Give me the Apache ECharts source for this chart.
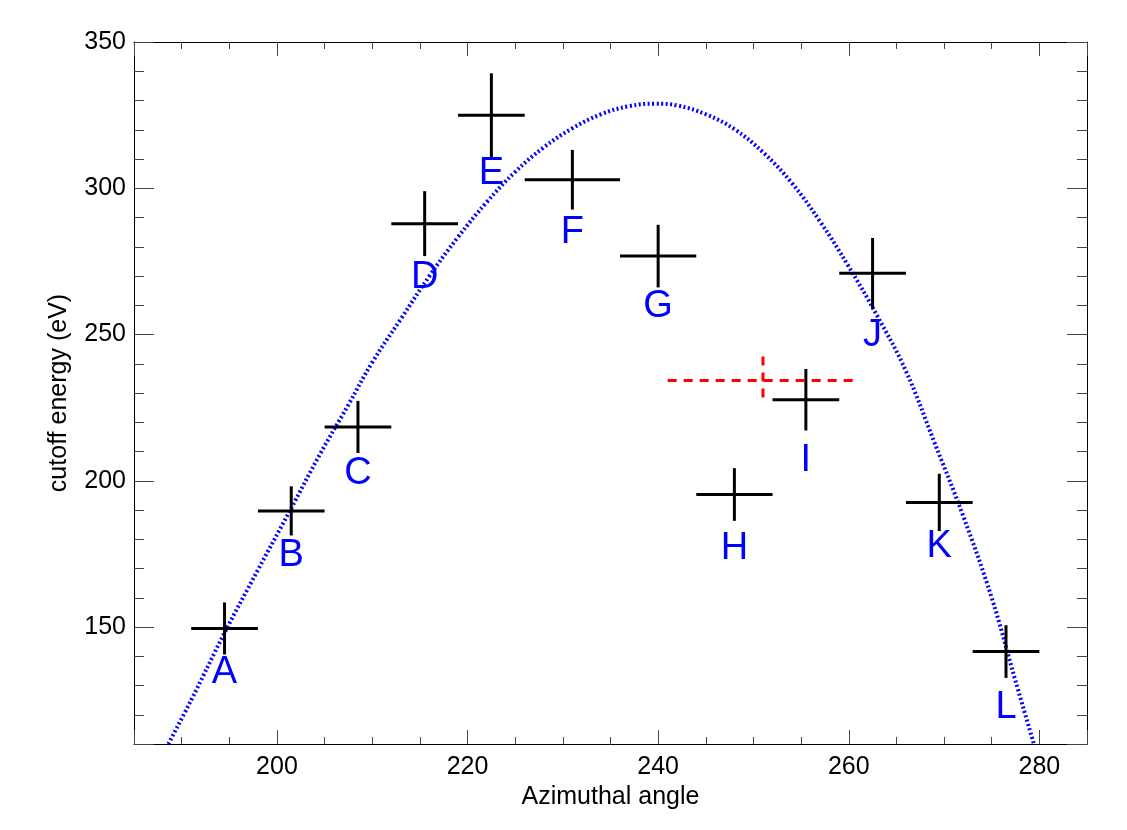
<!DOCTYPE html>
<html><head><meta charset="utf-8">
<script src="https://cdn.jsdelivr.net/npm/echarts@6/dist/echarts.min.js"></script>
<style>html,body{margin:0;padding:0;background:#fff}#c{width:1127px;height:830px}</style>
</head><body><div id="c"></div>
<script>
// ---- data ----
const labels = ['A','B','C','D','E','F','G','H','I','J','K','L'];
const angle = [194.5, 201.5, 208.5, 215.5, 222.5, 231.0, 240.0, 248.0, 255.5, 262.5, 269.5, 276.5];
const energy = [149.5, 189.7, 218.4, 287.9, 325.0, 302.9, 276.8, 195.3, 227.7, 270.9, 192.6, 141.6];
const angleErr = [3.5, 3.5, 3.5, 3.5, 3.5, 5.0, 4.0, 4.0, 3.5, 3.5, 3.5, 3.5];
const energyErr = [8.9, 8.4, 8.9, 11.1, 14.3, 10.2, 10.7, 9.0, 10.5, 12.1, 9.8, 9.0];
const labelEnergy = [134.3, 174.6, 202.6, 269.5, 304.9, 284.9, 259.5, 176.8, 207.0, 249.8, 177.4, 122.5];
const redAngle = [251.0];
const redEnergy = [234.3];
const redAngleErr = [10.0];
const redEnergyErr = [8.2];
const fitAngle = [188.6, 191, 194.5, 198, 201.4, 204.5, 207.5, 210, 213, 216, 219, 222, 225, 228, 231, 234, 237, 239.7, 242, 245, 248, 251, 254, 257, 260, 263, 266, 269, 272, 275, 277.5, 279.4];
const fitEnergy = [110, 125, 148, 169.5, 190, 209, 226, 240.5, 255.3, 270, 283.3, 295.2, 305.6, 314, 320.5, 325.3, 328.1, 328.9, 328.3, 325.3, 320.2, 312.3, 301.9, 288.6, 273.2, 256.3, 237.5, 213, 188, 160, 131.5, 110.3];
const xTickLabels = [200, 220, 240, 260, 280];
const yTickLabels = [150, 200, 250, 300, 350];

// ---- build ----
const FONT = '"Liberation Sans", Arial, Helvetica, sans-serif';
const crossData = angle.map((a, i) => [a, energy[i], angleErr[i], energyErr[i]]);
const redData = redAngle.map((a, i) => [a, redEnergy[i], redAngleErr[i], redEnergyErr[i]]);
const labelData = angle.map((a, i) => [a, labelEnergy[i], labels[i]]);
const fitData = fitAngle.map((a, i) => [a, fitEnergy[i]]);

function crossItem(color, width, dash) {
  return function (params, api) {
    const x = api.value(0), y = api.value(1), ex = api.value(2), ey = api.value(3);
    const l = api.coord([x - ex, y]), r = api.coord([x + ex, y]);
    const t = api.coord([x, y + ey]), b = api.coord([x, y - ey]);
    const style = { stroke: color, lineWidth: width, lineDash: dash, fill: null };
    return { type: 'group', children: [
      { type: 'line', shape: { x1: l[0], y1: l[1], x2: r[0], y2: r[1] }, style: style },
      { type: 'line', shape: { x1: t[0], y1: t[1], x2: b[0], y2: b[1] }, style: style }
    ] };
  };
}

const tickColor = '#444';
function xAxisDef(pos, showLabels) {
  return {
    type: 'value', position: pos, min: 185, max: 285, splitNumber: 5,
    name: showLabels ? 'Azimuthal angle' : '', nameLocation: 'middle', nameGap: 38,
    nameTextStyle: { fontSize: 25, color: '#000', fontFamily: FONT },
    axisLine: { show: true, onZero: false, lineStyle: { color: '#000', width: 1 } },
    axisTick: { show: true, inside: true, length: 14, lineStyle: { color: tickColor, width: 1 } },
    minorTick: { show: true, splitNumber: 4, length: 7, lineStyle: { color: tickColor, width: 1 } },
    axisLabel: { show: showLabels, fontSize: 25, color: '#000', fontFamily: FONT, margin: 11,
      formatter: v => (xTickLabels.indexOf(Math.round(v)) >= 0 && Math.abs(v - Math.round(v)) < 1e-6) ? String(Math.round(v)) : '' },
    splitLine: { show: false }, minorSplitLine: { show: false }
  };
}
function yAxisDef(pos, showLabels) {
  return {
    type: 'value', position: pos, min: 110, max: 350, splitNumber: 5,
    name: showLabels ? 'cutoff energy (eV)' : '', nameLocation: 'middle', nameGap: 62,
    nameTextStyle: { fontSize: 25, color: '#000', fontFamily: FONT },
    axisLine: { show: true, onZero: false, lineStyle: { color: '#000', width: 1 } },
    axisTick: { show: true, inside: true, length: 20, lineStyle: { color: tickColor, width: 1 } },
    minorTick: { show: true, splitNumber: 5, length: 10, lineStyle: { color: tickColor, width: 1 } },
    axisLabel: { show: showLabels, fontSize: 25, color: '#000', fontFamily: FONT, margin: 8,
      formatter: v => (yTickLabels.indexOf(Math.round(v)) >= 0 && Math.abs(v - Math.round(v)) < 1e-6) ? String(Math.round(v)) : '' },
    splitLine: { show: false }, minorSplitLine: { show: false }
  };
}

const chart = echarts.init(document.getElementById('c'), null, { renderer: 'canvas' });
chart.setOption({
  animation: false,
  backgroundColor: '#fff',
  textStyle: { fontFamily: FONT },
  grid: { left: 134, right: 40, top: 42, bottom: 86, containLabel: false },
  xAxis: [xAxisDef('bottom', true), xAxisDef('top', false)],
  yAxis: [yAxisDef('left', true), yAxisDef('right', false)],
  series: [
    {
      type: 'line', data: fitData, showSymbol: false, smooth: 0.4, silent: true,
      lineStyle: { color: '#0000ff', width: 4, type: [2, 2.5], cap: 'butt' }, z: 2
    },
    {
      type: 'custom', data: crossData, renderItem: crossItem('#000', 3, null), silent: true, z: 3
    },
    {
      type: 'custom', data: redData, renderItem: crossItem('#ff0000', 3, [9, 7]), silent: true, z: 3
    },
    {
      type: 'scatter', data: labelData, symbol: 'circle', symbolSize: 1, silent: true, z: 4,
      itemStyle: { color: 'rgba(0,0,0,0)', opacity: 1 },
      label: { show: true, position: 'inside', formatter: p => p.data[2], fontSize: 38, opacity: 1,
        color: '#0000ff', fontFamily: FONT }
    }
  ]
});
</script></body></html>
